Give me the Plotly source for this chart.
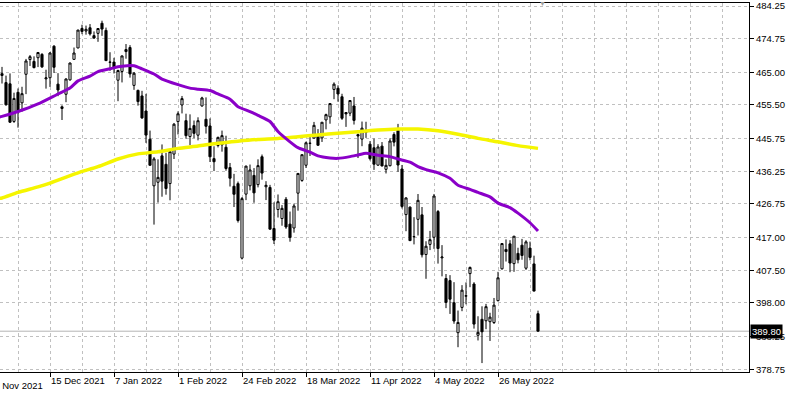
import plotly.graph_objects as go

# ---------------- data (daily bars) ----------------
DATES = [
    "2021-11-29", "2021-11-30", "2021-12-01", "2021-12-02", "2021-12-03", "2021-12-06", "2021-12-07",
    "2021-12-08", "2021-12-09", "2021-12-10", "2021-12-13", "2021-12-14", "2021-12-15", "2021-12-16",
    "2021-12-17", "2021-12-20", "2021-12-21", "2021-12-22", "2021-12-23", "2021-12-27", "2021-12-28",
    "2021-12-29", "2021-12-30", "2021-12-31", "2022-01-03", "2022-01-04", "2022-01-05", "2022-01-06",
    "2022-01-07", "2022-01-10", "2022-01-11", "2022-01-12", "2022-01-13", "2022-01-14", "2022-01-18",
    "2022-01-19", "2022-01-20", "2022-01-21", "2022-01-24", "2022-01-25", "2022-01-26", "2022-01-27",
    "2022-01-28", "2022-01-31", "2022-02-01", "2022-02-02", "2022-02-03", "2022-02-04", "2022-02-07",
    "2022-02-08", "2022-02-09", "2022-02-10", "2022-02-11", "2022-02-14", "2022-02-15", "2022-02-16",
    "2022-02-17", "2022-02-18", "2022-02-22", "2022-02-23", "2022-02-24", "2022-02-25", "2022-02-28",
    "2022-03-01", "2022-03-02", "2022-03-03", "2022-03-04", "2022-03-07", "2022-03-08", "2022-03-09",
    "2022-03-10", "2022-03-11", "2022-03-14", "2022-03-15", "2022-03-16", "2022-03-17", "2022-03-18",
    "2022-03-21", "2022-03-22", "2022-03-23", "2022-03-24", "2022-03-25", "2022-03-28", "2022-03-29",
    "2022-03-30", "2022-03-31", "2022-04-01", "2022-04-04", "2022-04-05", "2022-04-06", "2022-04-07",
    "2022-04-08", "2022-04-11", "2022-04-12", "2022-04-13", "2022-04-14", "2022-04-18", "2022-04-19",
    "2022-04-20", "2022-04-21", "2022-04-22", "2022-04-25", "2022-04-26", "2022-04-27", "2022-04-28",
    "2022-04-29", "2022-05-02", "2022-05-03", "2022-05-04", "2022-05-05", "2022-05-06", "2022-05-09",
    "2022-05-10", "2022-05-11", "2022-05-12", "2022-05-13", "2022-05-16", "2022-05-17", "2022-05-18",
    "2022-05-19", "2022-05-20", "2022-05-23", "2022-05-24", "2022-05-25", "2022-05-26", "2022-05-27",
    "2022-05-31", "2022-06-01", "2022-06-02", "2022-06-03", "2022-06-06", "2022-06-07", "2022-06-08",
    "2022-06-09", "2022-06-10",
]

OPEN = [
    464.07, 462.00, 461.64, 450.73, 459.17, 456.13, 464.41, 468.70, 468.15, 469.23, 470.19, 463.09,
    463.42, 472.57, 461.55, 454.48, 458.61, 462.79, 468.75, 472.06, 477.72, 476.98, 477.93, 475.64,
    476.30, 479.22, 477.16, 467.89, 467.95, 462.70, 465.23, 471.59, 472.19, 461.19, 459.74, 458.13,
    453.75, 445.56, 432.03, 433.06, 440.72, 438.26, 432.68, 441.24, 450.68, 455.50, 450.95, 446.35,
    449.51, 446.73, 455.22, 451.34, 449.41, 439.92, 443.73, 443.93, 443.22, 437.33, 431.89, 432.66,
    411.02, 429.61, 432.03, 435.04, 432.37, 440.47, 431.75, 431.55, 419.62, 425.14, 422.52, 428.12,
    420.89, 419.77, 429.89, 433.59, 438.00, 444.34, 445.86, 446.91, 445.94, 451.16, 452.06, 460.02,
    460.34, 457.89, 453.31, 453.13, 455.22, 446.89, 445.59, 447.97, 444.11, 443.08, 438.03, 443.55,
    436.81, 437.86, 446.92, 448.54, 436.91, 423.67, 425.83, 417.24, 422.29, 423.59, 412.07, 415.01,
    417.08, 424.55, 411.10, 405.10, 404.49, 398.07, 389.37, 396.71, 399.98, 406.53, 403.50, 388.62,
    393.25, 392.83, 392.56, 392.31, 398.67, 407.91, 413.55, 415.17, 409.42, 412.40, 414.78, 408.10,
    413.93, 409.34, 394.88,
]

HIGH = [
    466.56, 464.03, 464.67, 459.07, 460.30, 460.79, 468.88, 470.00, 469.63, 470.90, 470.56, 465.74,
    470.86, 472.87, 464.74, 455.40, 463.21, 467.81, 472.19, 477.31, 478.81, 478.56, 479.00, 476.86,
    477.85, 479.98, 477.98, 470.82, 469.20, 465.74, 469.85, 473.20, 472.88, 465.09, 459.96, 459.61,
    458.74, 448.06, 440.38, 439.72, 444.04, 441.59, 442.00, 450.28, 453.63, 458.12, 452.97, 452.78,
    450.99, 451.92, 457.88, 457.71, 451.61, 443.50, 446.28, 448.06, 446.57, 438.66, 435.50, 433.26,
    428.76, 437.84, 438.20, 437.17, 439.72, 441.11, 433.37, 432.30, 427.21, 429.51, 426.43, 428.77,
    424.55, 426.84, 435.68, 441.07, 444.86, 446.46, 450.58, 448.49, 450.50, 452.98, 455.91, 462.07,
    461.20, 458.76, 453.46, 456.91, 457.83, 447.18, 450.69, 450.63, 445.00, 445.75, 444.11, 444.73,
    439.75, 445.80, 447.57, 450.01, 438.08, 428.69, 426.04, 422.92, 429.64, 425.87, 415.92, 418.93,
    429.66, 425.00, 414.80, 406.41, 406.08, 404.04, 395.80, 403.18, 403.97, 408.57, 404.03, 394.14,
    397.03, 397.73, 395.15, 399.45, 407.04, 415.38, 416.46, 416.24, 417.44, 414.04, 416.61, 416.22,
    415.82, 411.74, 395.78,
]

LOW = [
    461.73, 455.30, 450.29, 450.31, 448.92, 453.56, 458.65, 466.83, 466.14, 466.51, 466.27, 460.25,
    460.74, 464.80, 458.06, 451.14, 456.31, 462.58, 468.64, 472.01, 476.06, 475.92, 475.67, 474.67,
    473.85, 475.58, 468.28, 465.43, 464.65, 456.60, 462.05, 468.94, 463.44, 459.90, 455.31, 451.46,
    444.50, 437.95, 420.76, 427.15, 428.86, 429.45, 427.82, 439.81, 446.94, 453.05, 445.71, 443.83,
    445.85, 445.22, 455.01, 447.20, 438.94, 436.31, 443.18, 441.94, 436.42, 431.82, 425.86, 421.35,
    410.64, 427.86, 430.70, 427.11, 431.57, 433.80, 427.88, 419.36, 415.12, 422.82, 420.44, 419.53,
    415.79, 418.42, 424.80, 433.19, 437.22, 440.68, 445.86, 443.71, 444.76, 448.43, 450.06, 457.18,
    456.47, 451.16, 449.14, 452.26, 449.82, 440.09, 443.53, 445.94, 439.39, 436.65, 437.84, 437.68,
    435.61, 437.68, 443.48, 436.10, 425.44, 418.84, 416.07, 415.01, 417.60, 411.21, 405.02, 413.36,
    413.71, 409.44, 405.73, 396.50, 394.82, 391.96, 385.15, 395.61, 397.60, 402.58, 390.55, 387.11,
    380.54, 390.38, 386.96, 391.89, 398.45, 407.70, 410.03, 406.93, 407.04, 409.51, 410.55, 407.61,
    410.38, 401.44, 389.75,
]

CLOSE = [
    464.60, 455.56, 450.50, 457.40, 453.42, 458.79, 468.28, 469.52, 466.35, 470.74, 466.57, 463.36,
    470.60, 466.45, 459.87, 454.98, 463.06, 467.69, 470.60, 477.26, 476.87, 477.48, 476.16, 474.96,
    477.71, 477.55, 468.38, 467.94, 466.09, 465.51, 469.75, 471.02, 464.53, 464.72, 456.49, 451.75,
    446.75, 437.98, 439.84, 434.47, 433.38, 431.24, 441.95, 449.91, 452.95, 457.35, 446.60, 448.70,
    447.26, 450.94, 457.54, 449.32, 440.46, 439.02, 446.10, 446.60, 437.06, 434.23, 429.57, 421.95,
    428.30, 437.75, 436.63, 429.98, 437.89, 435.71, 432.17, 419.43, 416.25, 427.41, 425.48, 420.07,
    417.00, 426.17, 435.62, 441.07, 444.52, 444.39, 449.59, 443.80, 450.49, 452.69, 455.91, 461.55,
    458.70, 451.64, 452.92, 456.80, 451.03, 446.52, 448.77, 447.57, 439.92, 438.29, 443.31, 437.79,
    437.97, 445.04, 444.71, 438.06, 426.04, 428.51, 416.10, 417.27, 427.81, 412.00, 414.48, 416.38,
    429.06, 413.81, 411.34, 398.17, 399.09, 392.75, 392.34, 401.72, 400.09, 408.32, 391.86, 389.46,
    389.63, 396.92, 393.89, 397.37, 405.31, 415.26, 412.93, 409.59, 417.39, 410.54, 411.79, 415.74,
    411.22, 401.44, 389.80,
]

# moving averages (bar index -> value)
MA_FAST_BAR = [-1, 0, 4, 9, 14, 17, 19, 22, 24, 27, 29, 32, 33, 35, 38, 40, 44, 47, 49, 52, 54, 57,
               59, 62, 64, 67, 69, 72, 74, 77, 79, 82, 84, 87, 89, 91, 94, 97, 99, 102, 104, 107, 109,
               112, 114, 117, 119, 122, 124, 127, 129, 132, 134]
MA_FAST_VAL = [451.9, 452.2, 453.6, 455.8, 458.7, 460.4, 462.5, 463.9, 465.2, 466.0, 466.6, 467.0,
               466.9, 466.0, 464.5, 463.0, 461.4, 460.4, 460.1, 459.7, 458.7, 457.2, 455.0, 453.6,
               452.5, 450.7, 447.8, 444.8, 443.1, 441.8, 440.7, 440.1, 440.0, 440.5, 441.0, 441.5,
               440.9, 440.5, 439.8, 438.9, 437.6, 436.4, 435.8, 434.2, 432.2, 431.0, 430.1, 428.8,
               427.0, 425.7, 424.1, 421.3, 418.9]

MA_SLOW_BAR = [-1, 0, 4, 9, 12, 14, 19, 24, 29, 34, 39, 44, 49, 54, 59, 64, 69, 74, 79, 84, 89, 94,
               99, 104, 109, 114, 119, 124, 129, 134]
MA_SLOW_VAL = [428.3, 428.5, 430.1, 431.7, 432.8, 433.7, 435.8, 437.6, 439.8, 441.3, 441.9, 442.9,
               443.6, 444.4, 445.0, 445.5, 445.8, 446.3, 446.8, 447.3, 447.7, 448.2, 448.5, 448.5,
               448.0, 447.0, 445.8, 444.8, 443.7, 442.9]

Y_TICKS = [484.25, 474.75, 465.00, 455.50, 445.75, 436.25, 426.75, 417.00, 407.50, 398.00, 388.25, 378.75]
X_TICK_BAR = [-4, 12, 28, 44, 60, 76, 92, 108, 124]
X_TICK_LABELS = ["22 Nov 2021", "15 Dec 2021", "7 Jan 2022", "1 Feb 2022", "24 Feb 2022",
                 "18 Mar 2022", "11 Apr 2022", "4 May 2022", "26 May 2022"]
LAST_PRICE = 389.80

# ---------------- figure ----------------
W, H = 789, 396
ML, MR, MT, MB = 0, 40, 3, 24
X_RANGE = [-0.5, 186.75]
Y_RANGE = [377.95, 485.12]
FONT = dict(family="Liberation Sans, Arial, sans-serif", size=9.5, color="black")
GRID = "#c0c0c0"

bars = list(range(len(DATES)))

fig = go.Figure()
fig.add_trace(go.Candlestick(
    x=bars, open=OPEN, high=HIGH, low=LOW, close=CLOSE,
    increasing=dict(fillcolor="white", line=dict(color="black", width=1)),
    decreasing=dict(fillcolor="black", line=dict(color="black", width=1)),
    whiskerwidth=0, showlegend=False, hoverinfo="skip",
))
fig.add_trace(go.Scatter(
    x=MA_SLOW_BAR, y=MA_SLOW_VAL, mode="lines",
    line=dict(color="#f5f500", width=3.5, shape="spline", smoothing=0.6),
    showlegend=False, hoverinfo="skip",
))
fig.add_trace(go.Scatter(
    x=MA_FAST_BAR, y=MA_FAST_VAL, mode="lines",
    line=dict(color="#8a00c8", width=3, shape="spline", smoothing=0.6),
    showlegend=False, hoverinfo="skip",
))

# last-price line
fig.add_shape(type="line", xref="paper", x0=0, x1=1, yref="y", y0=LAST_PRICE, y1=LAST_PRICE,
              line=dict(color="#b4b4b4", width=1), layer="below")

visible_ticks = [(b, t) for b, t in zip(X_TICK_BAR, X_TICK_LABELS) if b >= X_RANGE[0]]
hidden_ticks = [(b, t) for b, t in zip(X_TICK_BAR, X_TICK_LABELS) if b < X_RANGE[0]]

grid_bars = list(range(4, int(X_RANGE[1]) + 1, 8))

fig.update_layout(
    width=W, height=H,
    margin=dict(l=ML, r=MR, t=MT, b=MB, pad=0),
    paper_bgcolor="white", plot_bgcolor="white",
    font=FONT, showlegend=False, boxgap=0.25,
    xaxis=dict(
        range=X_RANGE, rangeslider=dict(visible=False),
        tickmode="array", tickvals=[b for b, _ in visible_ticks], ticktext=[t for _, t in visible_ticks],
        ticks="outside", ticklen=4, tickcolor="black", tickwidth=1,
        ticklabelposition="outside right",
        showgrid=False, zeroline=False,
        showline=True, linecolor="black", linewidth=1, mirror=True,
        minor=dict(tickmode="array", tickvals=grid_bars, showgrid=True, gridcolor=GRID,
                   griddash="3px,3px", gridwidth=1, ticks=""),
        tickfont=FONT,
    ),
    yaxis=dict(
        range=Y_RANGE, side="right",
        tickmode="array", tickvals=Y_TICKS, ticktext=[f"{v:.2f}" for v in Y_TICKS],
        ticks="outside", ticklen=4, tickcolor="black", tickwidth=1,
        showgrid=True, gridcolor=GRID, griddash="3px,3px", gridwidth=1, zeroline=False,
        showline=True, linecolor="black", linewidth=1, mirror=True,
        tickfont=FONT,
    ),
)

# tick label that starts left of the plot edge
span = X_RANGE[1] - X_RANGE[0]
for b, t in hidden_ticks:
    fig.add_annotation(xref="paper", yref="paper", x=(b - X_RANGE[0]) / span, y=0,
                       xanchor="left", yanchor="top", yshift=-6, xshift=1,
                       text=t, showarrow=False, font=FONT)

# last price badge
fig.add_annotation(xref="paper", yref="y", x=1, y=LAST_PRICE, xanchor="left", yanchor="middle",
                   xshift=1, text=f"{LAST_PRICE:.2f}", showarrow=False,
                   font=dict(family=FONT["family"], size=9.5, color="white"),
                   bgcolor="black", borderpad=1)

# chart shift marker
fig.add_annotation(xref="paper", yref="paper", x=(135 - X_RANGE[0]) / span, y=1,
                   xanchor="center", yanchor="middle", text="▼", showarrow=False,
                   font=dict(size=7, color="#a0a0a0"))

fig.write_html("out.html",
               config={"displayModeBar": False},
               post_script="document.body.style.margin='0';document.body.style.overflow='hidden';")
